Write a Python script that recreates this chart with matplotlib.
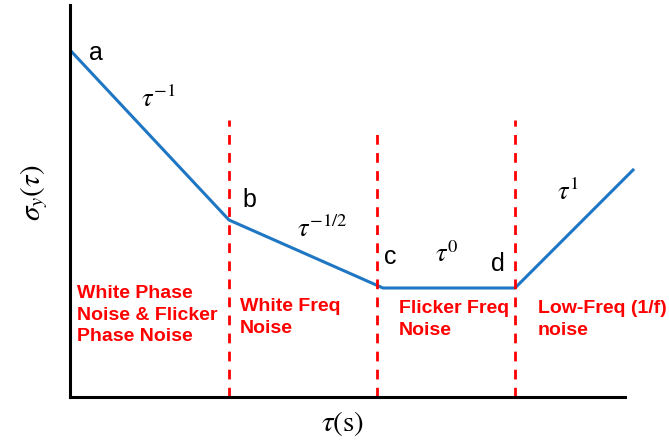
import matplotlib.pyplot as plt

plt.rcParams['mathtext.fontset'] = 'stix'

# corner points of the Allan deviation sketch (arbitrary units)
tau_pts = [0, 159, 313, 445, 563]
sigma_pts = [347, 177, 109, 109, 227]
point_names = ['a', 'b', 'c', 'd']

# region boundaries and their top ends
bounds_x = [159, 307, 445]
bounds_top = [277, 267, 277]

slopes = [r'$\tau^{-1}$', r'$\tau^{-1/2}$', r'$\tau^{0}$', r'$\tau^{1}$']
regions = ['White Phase\nNoise & Flicker\nPhase Noise', 'White Freq\nNoise',
           'Flicker Freq\nNoise', 'Low-Freq (1/f)\nnoise']

fig = plt.figure(figsize=(6.69, 4.42), dpi=100)
ax = fig.add_axes([70 / 669, 45 / 442, 565 / 669, 392 / 442])
ax.set_xlim(0, 565)
ax.set_ylim(0, 392)

ax.plot(tau_pts, sigma_pts, color='#1f77c4', lw=2.2, solid_joinstyle='miter')
for x, top in zip(bounds_x, bounds_top):
    ax.plot([x, x], [0, top], color='red', lw=2, ls=(0, (3.5, 3)))

# point letters
letter_pos = [(26, 344), (179, 197), (320, 140), (428, 133)]
for name, (x, y) in zip(point_names, letter_pos):
    ax.text(x, y, name, fontsize=18, family='Liberation Sans', ha='center', va='center')

slope_pos = [(88, 297), (252, 167), (377, 142), (498, 204)]
for s, (x, y) in zip(slopes, slope_pos):
    ax.text(x, y, s, fontsize=19, ha='center', va='center')

region_pos = [(7, 82), (170, 79.5), (329, 77.5), (468, 77.5)]
for r, (x, y) in zip(regions, region_pos):
    ax.text(x, y, r, fontsize=14, family='Liberation Sans', weight='bold',
            color='red', ha='left', va='center', linespacing=1.32)

for side in ['top', 'right']:
    ax.spines[side].set_visible(False)
for side in ['left', 'bottom']:
    ax.spines[side].set_linewidth(2.2)
ax.spines['bottom'].set_bounds(0, 555)
ax.set_xticks([])
ax.set_yticks([])

ax.set_xlabel(r'$\tau(\mathrm{s})$', fontsize=21, va='center', ha='center')
ax.set_ylabel(r'$\sigma_y(\tau)$', fontsize=21, va='center', ha='center')
ax.xaxis.set_label_coords(273 / 565, -27 / 392)
ax.yaxis.set_label_coords(-36 / 565, 204 / 392)

fig.savefig('out.png', dpi=100)
